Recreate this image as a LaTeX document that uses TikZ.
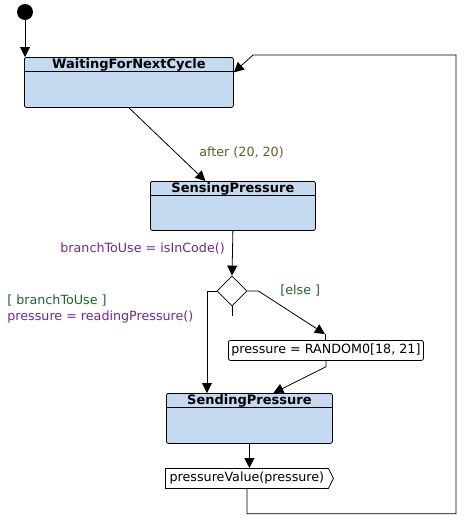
\documentclass[tikz,border=0pt]{standalone}
\usepackage{fontspec}
\setmainfont{DejaVu Sans}
\usetikzlibrary{arrows.meta,shapes.geometric,shapes.symbols}
\definecolor{stfill}{RGB}{197,217,240}
\definecolor{guardc}{RGB}{30,100,50}
\definecolor{actc}{RGB}{110,40,150}
\definecolor{timec}{RGB}{105,90,40}
\tikzset{
  x=1pt, y=-1pt,
  every path/.style={line width=0.8pt},
  arr/.style={-{Triangle[length=10pt,width=10pt]}},
  statebox/.style={draw, fill=stfill, rounded corners=2pt, anchor=north west, inner sep=0pt, minimum height=50pt},
  titletext/.style={font=\fontsize{13}{15}\selectfont\bfseries, inner sep=0pt},
  lbl/.style={font=\fontsize{12.7}{15}\selectfont, inner sep=0pt, anchor=west},
  actbox/.style={draw, fill=white, rounded corners=2pt, anchor=north west, inner sep=0pt, minimum height=20pt, font=\fontsize{12.7}{15}\selectfont},
}
\begin{document}
\begin{tikzpicture}
\useasboundingbox (0,0) rectangle (465,525);
% initial
\node[circle, fill=black, minimum size=16pt, inner sep=0pt] (init) at (25,12) {};
% states
\node[statebox, minimum width=209pt] (w) at (24,57) {};
\draw ([yshift=-14pt]w.north west) -- ([yshift=-14pt]w.north east);
\node[titletext] (wt) at ([yshift=-7.5pt]w.north) {WaitingForNextCycle};

\node[statebox, minimum width=165pt, minimum height=49pt] (sp) at (150,181) {};
\draw ([yshift=-14pt]sp.north west) -- ([yshift=-14pt]sp.north east);
\node[titletext] (spt) at ([yshift=-7.5pt]sp.north) {SensingPressure};

\node[diamond, draw, fill=white, minimum width=30pt, minimum height=30pt, inner sep=0pt] (d) at (232,291) {};

\node[actbox, minimum width=195pt] (act) at (228,340) {pressure = RANDOM0[18, 21]};

\node[statebox, minimum width=166pt] (snd) at (166,393) {};
\draw ([yshift=-14pt]snd.north west) -- ([yshift=-14pt]snd.north east);
\node[titletext] (sndt) at ([yshift=-7.5pt]snd.north) {SendingPressure};

\node[draw, fill=white, signal, signal to=east, signal pointer angle=127, minimum width=168pt, minimum height=20pt, inner sep=0.5pt, font=\fontsize{12.7}{15}\selectfont, anchor=north west] (sig) at (165,468) {pressureValue(pressure)};

% connectors
\draw[arr] (init) -- (init |- w.north);
\draw[arr] (w.south) -- ([xshift=-27.5pt]sp.north);
\draw[arr] (sp.south) -- (d.north);
\draw (d.south) -- ++(0,10);
\draw[arr] (d.west) -| ([xshift=41pt]snd.north west);
\draw[arr] (d.east) -- ++(11,0) -- ([xshift=-1pt,yshift=6pt]act.north);
\draw ([xshift=-1pt,yshift=6pt]act.north) -- ([xshift=-1pt]act.north);
\draw[arr] (act.south) -- ++(0,6) -- ([xshift=24pt]snd.north);
\draw[arr] (snd.south) -- (snd.south |- sig.north);
\draw[arr] (sig.south) -- ++(0,25) -| (456,55) -- (253,55) -- ([yshift=10pt]w.east);

% labels
\node[lbl, text=timec] (l1) at (199,153) {after (20, 20)};
\node[lbl, text=actc] (l2) at (60,249) {branchToUse = isInCode()};
\node[lbl, text=guardc] (l3) at (7,301) {[ branchToUse ]};
\node[lbl, text=actc] (l4) at (7,317) {pressure = readingPressure()};
\node[lbl, text=guardc] (l5) at (280,291) {[else ]};
\end{tikzpicture}
\end{document}
